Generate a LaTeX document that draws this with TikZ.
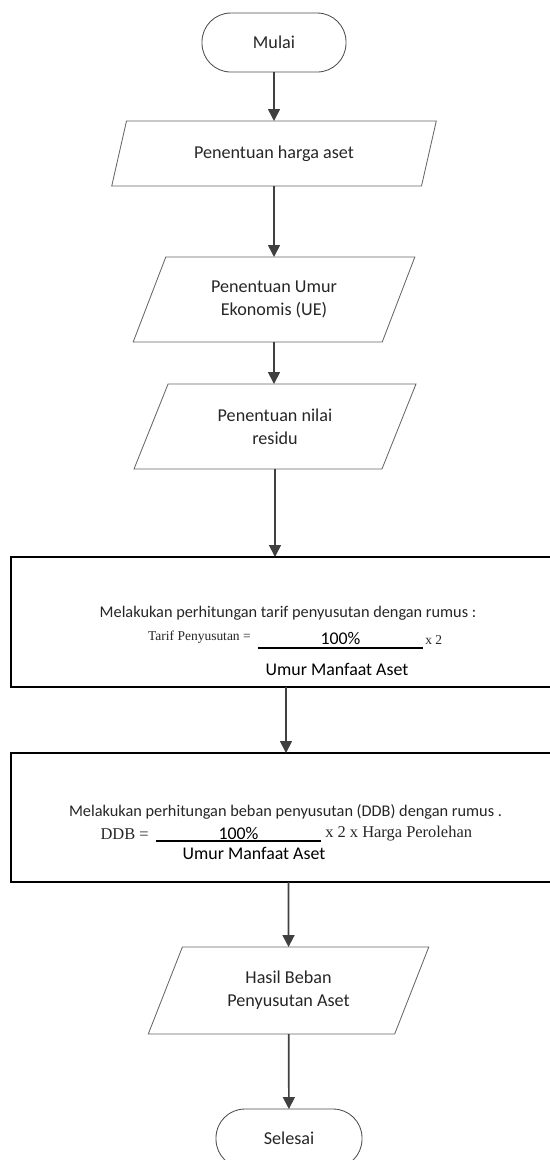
\documentclass[tikz,border=0pt]{standalone}
\usepackage{fontspec}
\setmainfont{Carlito}
\newfontfamily\timesfont{Liberation Serif}
\usetikzlibrary{shapes.geometric,arrows.meta}

\begin{document}
\begin{tikzpicture}[
  terminal/.style={draw=black!70,line width=0.6pt,rounded corners=0.72cm,minimum width=3.6cm,minimum height=1.475cm,inner sep=0pt,outer sep=0pt,text=black!85,font=\fontsize{12.9}{15.5}\selectfont},
  dataio/.style={draw=black!60,line width=0.6pt,trapezium,trapezium left angle=63,trapezium right angle=117,trapezium stretches=true,inner sep=0pt,outer sep=0pt,align=center,text=black!85,font=\fontsize{12.9}{16.4}\selectfont},
  process/.style={draw=black,line width=1.2pt,minimum width=13.75cm,inner sep=0pt,outer sep=0pt},
  flow/.style={draw=black!75,line width=1.2pt,-{Triangle[width=8.5pt,length=8.5pt]}},
  titletext/.style={inner sep=0pt,text=black!85,font=\fontsize{11.6}{14}\selectfont},
  fractext/.style={inner sep=0pt,font=\fontsize{12.7}{15}\selectfont},
  formtext/.style={inner sep=0pt,text=black!85,font=\timesfont\fontsize{11.7}{14}\selectfont}
]
\useasboundingbox (0,0) rectangle (13.750,-29.000);
\clip (0,0) rectangle (13.750,-29.000);

% start, input steps
\node[terminal] (mulai) at (6.850,-1.063) {Mulai};
\node[dataio,minimum width=8.125cm,minimum height=1.625cm] (para1) at (6.850,-3.838) {Penentuan harga aset};
\node[dataio,minimum width=7.050cm,minimum height=2.125cm] (para2) at (6.850,-7.488) {Penentuan Umur\\Ekonomis (UE)};
\node[dataio,minimum width=7.050cm,minimum height=2.125cm] (para3) at (6.875,-10.663) {Penentuan nilai\\residu};

% tarif penyusutan
\node[process,minimum height=3.250cm] (rect1) at (7.150,-15.550) {};
\node[titletext] (title1) at (7.200,-15.325) {Melakukan perhitungan tarif penyusutan dengan rumus :};
\node[formtext,font=\timesfont\fontsize{9.6}{12}\selectfont,anchor=east] (lhs1) at (6.275,-15.930) {Tarif Penyusutan =};
\node[fractext,minimum width=4.125cm,inner ysep=2pt,anchor=south] (num1) at (8.513,-16.200) {100\%};
\draw[line width=0.8pt] (num1.south west) -- (num1.south east);
\node[formtext,font=\timesfont\fontsize{9.6}{12}\selectfont,anchor=west] (rhs1) at (10.625,-16.000) {x 2};
\node[fractext] (den1) at (8.425,-16.725) {Umur Manfaat Aset};

% beban penyusutan DDB
\node[process,minimum height=3.225cm] (rect2) at (7.150,-20.438) {};
\node[titletext] (title2) at (7.138,-20.300) {Melakukan perhitungan beban penyusutan (DDB) dengan rumus .};
\node[formtext,anchor=east] (lhs2) at (3.725,-20.850) {DDB =};
\node[fractext,minimum width=4.125cm,inner ysep=1pt,anchor=south] (num2) at (5.963,-21.025) {100\%};
\draw[line width=0.8pt] (num2.south west) -- (num2.south east);
\node[formtext,anchor=west] (rhs2) at (8.125,-20.850) {x 2 x Harga Perolehan};
\node[fractext] (den2) at (6.350,-21.325) {Umur Manfaat Aset};

% output, end
\node[dataio,minimum width=7.025cm,minimum height=2.175cm] (para4) at (7.213,-24.763) {Hasil Beban\\Penyusutan Aset};
\node[terminal,minimum width=3.650cm] (selesai) at (7.225,-28.463) {Selesai};

\draw[flow] (mulai) -- (para1);
\draw[flow] (para1) -- (para2);
\draw[flow] (para2) -- (para2 |- para3.north);
\draw[flow] (para3) -- (para3 |- rect1.north);
\draw[flow] (rect1) -- (rect2);
\draw[flow] (para4 |- rect2.south) -- (para4);
\draw[flow] (para4) -- (selesai);
\end{tikzpicture}
\end{document}
